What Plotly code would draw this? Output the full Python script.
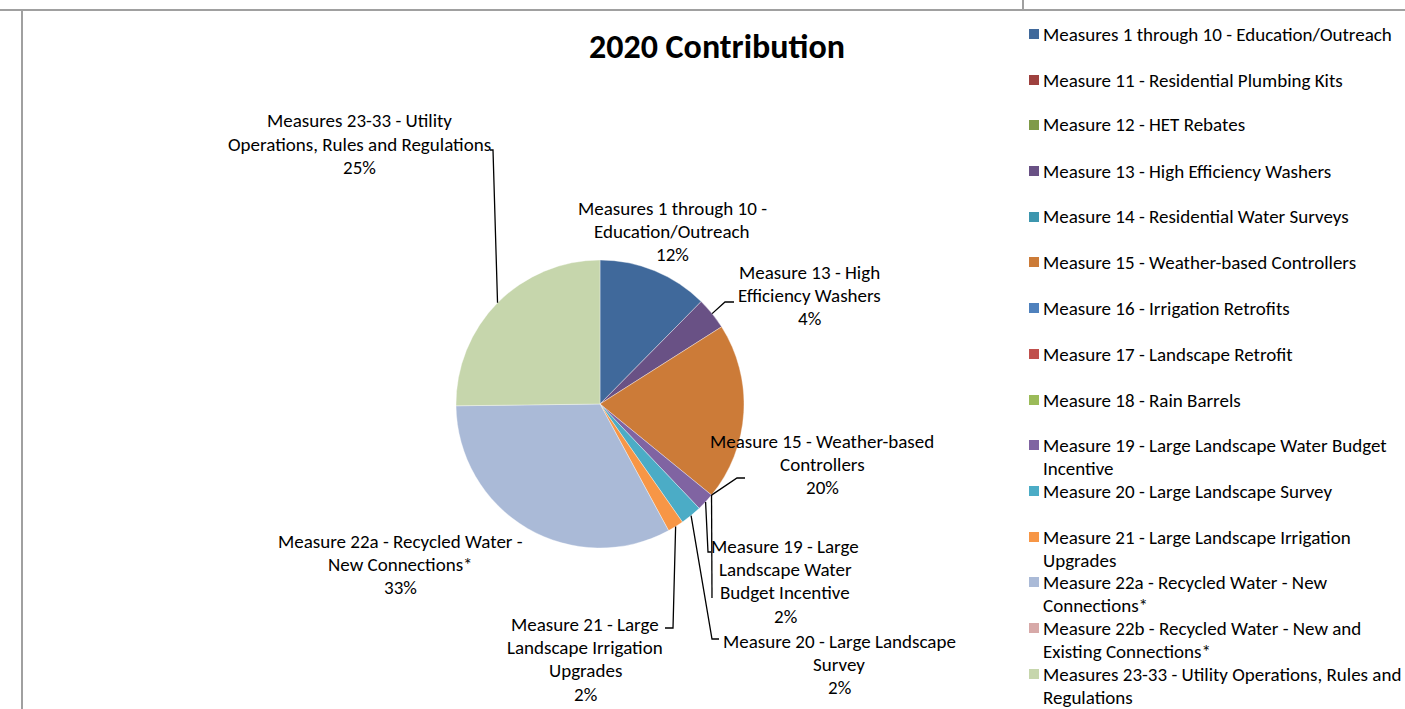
import math
import plotly.graph_objects as go

# ---------------- data ----------------
categories = [
    "Measures 1 through 10 - Education/Outreach",
    "Measure 11 - Residential Plumbing Kits",
    "Measure 12 - HET Rebates",
    "Measure 13 - High Efficiency Washers",
    "Measure 14 - Residential Water Surveys",
    "Measure 15 - Weather-based Controllers",
    "Measure 16 - Irrigation Retrofits",
    "Measure 17 - Landscape Retrofit",
    "Measure 18 - Rain Barrels",
    "Measure 19 - Large Landscape Water Budget Incentive",
    "Measure 20 - Large Landscape Survey",
    "Measure 21 - Large Landscape Irrigation Upgrades",
    "Measure 22a - Recycled Water - New Connections*",
    "Measure 22b - Recycled Water - New and Existing Connections*",
    "Measures 23-33 - Utility Operations, Rules and Regulations",
]
values = [12.4, 0, 0, 3.6, 0, 19.9, 0, 0, 0, 2.0, 2.4, 1.8, 32.7, 0, 25.2]

legend_labels = [
    ["Measures 1 through 10 - Education/Outreach"],
    ["Measure 11 - Residential Plumbing Kits"],
    ["Measure 12 - HET Rebates"],
    ["Measure 13 - High Efficiency Washers"],
    ["Measure 14 - Residential Water Surveys"],
    ["Measure 15 - Weather-based Controllers"],
    ["Measure 16 - Irrigation Retrofits"],
    ["Measure 17 - Landscape Retrofit"],
    ["Measure 18 - Rain Barrels"],
    ["Measure 19 - Large Landscape Water Budget", "Incentive"],
    ["Measure 20 - Large Landscape Survey"],
    ["Measure 21 - Large Landscape Irrigation", "Upgrades"],
    ["Measure 22a - Recycled Water - New", "Connections*"],
    ["Measure 22b - Recycled Water - New and", "Existing Connections*"],
    ["Measures 23-33 - Utility Operations, Rules and", "Regulations"],
]

data_label_lines = {
    0: ["Measures 1 through 10 -", "Education/Outreach"],
    3: ["Measure 13 - High", "Efficiency Washers"],
    5: ["Measure 15 - Weather-based", "Controllers"],
    9: ["Measure 19 - Large", "Landscape Water", "Budget Incentive"],
    10: ["Measure 20 - Large Landscape", "Survey"],
    11: ["Measure 21 - Large", "Landscape Irrigation", "Upgrades"],
    12: ["Measure 22a - Recycled Water -", "New Connections*"],
    14: ["Measures 23-33 - Utility", "Operations, Rules and Regulations"],
}

# ---------------- styles / layout ----------------
colors = ["#40699B", "#9E413E", "#7F9A48", "#695185", "#3D96AE", "#CC7B38",
          "#4F81BD", "#C0504D", "#9BBB59", "#8064A2", "#4BACC6", "#F79646",
          "#AABAD7", "#D7A9A8", "#C6D6AC"]

W, H = 1405, 709
CX, CY, R = 600, 404, 144
FONT = "Calibri, Carlito, Lato, sans-serif"
FS = 19
LINE_STEP = 23.4

label_pos = {0: (672, 208), 3: (809, 272), 5: (822, 441), 9: (785, 546),
             10: (839, 641), 11: (585, 624), 12: (400, 541), 14: (359, 121)}
leader_tail = {3: [(725, 302), (734, 302)],
               9: [(708, 552), (711, 552)],
               10: [(712, 639), (719, 639)],
               11: [(673, 628), (665, 628)],
               14: [(493, 150), (490, 150)],
               6: [(737, 478), (745, 478)],
               7: [(712, 598)]}

legend_y = [34, 80, 125, 171, 217, 262, 308, 354, 400, 445, 491, 537, 582, 628, 674]


def px(x):
    return x / W


def py(y):
    return 1 - y / H


fig = go.Figure()
fig.add_trace(go.Pie(
    labels=categories, values=values, sort=False, direction="clockwise",
    rotation=0, textinfo="none", showlegend=False,
    marker=dict(colors=colors,
                line=dict(color="rgba(255,255,255,0.6)",
                          width=[0.6 if v > 0 else 0 for v in values])),
    domain=dict(x=[px(CX - R), px(CX + R)], y=[py(CY + R), py(CY - R)]),
    hoverinfo="label+percent",
))

annotations = []
shapes = []

# title
annotations.append(dict(text="<b>2020 Contribution</b>", x=px(717), y=py(46),
                        xref="paper", yref="paper", showarrow=False,
                        xanchor="center", yanchor="middle",
                        font=dict(family=FONT, size=34, color="black")))

total = sum(values)
cum = 0.0
for i, v in enumerate(values):
    mid = (cum + v / 2) / total
    cum += v
    th = 2 * math.pi * mid
    ex, ey = CX + R * math.sin(th), CY - R * math.cos(th)
    if i in data_label_lines:
        lines = data_label_lines[i] + [f"{round(v / total * 100)}%"]
        lx, ly = label_pos[i]
        for k, t in enumerate(lines):
            annotations.append(dict(text=t, x=px(lx), y=py(ly + k * LINE_STEP),
                                    xref="paper", yref="paper", showarrow=False,
                                    xanchor="center", yanchor="middle",
                                    font=dict(family=FONT, size=FS, color="black")))
    if i in leader_tail:
        pts = [(ex, ey)] + leader_tail[i]
        path = "M " + " L ".join(f"{px(a)},{py(b)}" for a, b in pts)
        shapes.append(dict(type="path", path=path, xref="paper", yref="paper",
                           line=dict(color="black", width=1.3)))

# legend (manual, Excel-like)
for i, lines in enumerate(legend_labels):
    y0 = legend_y[i]
    shapes.append(dict(type="rect", xref="paper", yref="paper",
                       x0=px(1029), x1=px(1039), y0=py(y0 - 5), y1=py(y0 + 5),
                       fillcolor=colors[i], line=dict(width=0)))
    for k, t in enumerate(lines):
        annotations.append(dict(text=t, x=px(1041), y=py(y0 + k * 23),
                                xref="paper", yref="paper", showarrow=False,
                                xanchor="left", yanchor="middle",
                                font=dict(family=FONT, size=FS, color="black")))

# frame lines
frame = "#A0A0A0"
shapes += [
    dict(type="line", xref="paper", yref="paper", x0=0, x1=1, y0=py(10), y1=py(10),
         line=dict(color=frame, width=2)),
    dict(type="line", xref="paper", yref="paper", x0=px(22), x1=px(22), y0=py(10), y1=0,
         line=dict(color=frame, width=2)),
    dict(type="line", xref="paper", yref="paper", x0=px(1023), x1=px(1023), y0=1, y1=py(10),
         line=dict(color=frame, width=2)),
]

fig.update_layout(width=W, height=H, margin=dict(l=0, r=0, t=0, b=0),
                  paper_bgcolor="white", plot_bgcolor="white",
                  annotations=annotations, shapes=shapes, showlegend=False)

fig.write_html("out.html", config={"displayModeBar": False},
               post_script="document.body.style.margin='0';document.body.style.overflow='hidden';")
